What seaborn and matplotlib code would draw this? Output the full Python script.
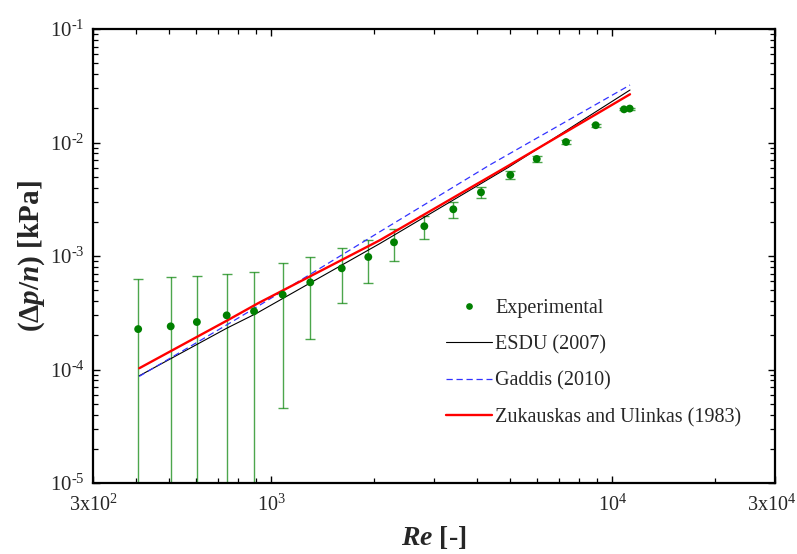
import numpy as np
import pandas as pd
import matplotlib
matplotlib.use("Agg")
import matplotlib.pyplot as plt
import matplotlib.transforms as mtransforms
import seaborn as sns
from matplotlib.ticker import LogLocator, FixedLocator, FixedFormatter, NullFormatter
from matplotlib.lines import Line2D

# ---------------- data ----------------
re_exp = [407, 507, 605, 740, 890, 1080, 1301, 1609, 1925, 2290,
          2810, 3418, 4120, 5023, 6003, 7315, 8941, 10823, 11247]
dp_exp = [2.27e-4, 2.40e-4, 2.62e-4, 3.00e-4, 3.26e-4, 4.56e-4, 5.86e-4, 7.79e-4, 9.80e-4, 1.32e-3,
          1.83e-3, 2.58e-3, 3.64e-3, 5.17e-3, 7.16e-3, 1.01e-2, 1.42e-2, 1.96e-2, 1.99e-2]
dp_err = [4.04e-4, 4.09e-4, 4.05e-4, 3.94e-4, 4.00e-4, 4.10e-4, 4.00e-4, 3.90e-4, 4.00e-4, 4.10e-4,
          4.20e-4, 4.10e-4, 4.00e-4, 4.30e-4, 4.00e-4, 4.00e-4, 4.00e-4, 4.00e-4, 4.00e-4]

re_esdu = [410, 740, 906, 2084, 4939, 11270]
dp_esdu = [8.8e-5, 2.31e-4, 3.13e-4, 1.29e-3, 6.0e-3, 2.90e-2]

re_gaddis = [410, 740, 926, 2084, 4367, 11270]
dp_gaddis = [8.7e-5, 2.47e-4, 3.70e-4, 1.64e-3, 6.33e-3, 3.21e-2]

re_zuk = [410, 740, 914, 2084, 4939, 11270]
dp_zuk = [1.026e-4, 2.69e-4, 3.83e-4, 1.38e-3, 6.2e-3, 2.66e-2]

x_ticks = [300, 1000, 10000, 30000]
x_ticklabels = [r"$3\mathrm{x}10^{2}$", r"$10^{3}$", r"$10^{4}$", r"$3\mathrm{x}10^{4}$"]
y_ticks = [1e-5, 1e-4, 1e-3, 1e-2, 1e-1]
y_ticklabels = [r"$10^{\text{-}5}$", r"$10^{\text{-}4}$", r"$10^{\text{-}3}$",
                r"$10^{\text{-}2}$", r"$10^{\text{-}1}$"]

labels = ["Experimental", "ESDU (2007)", "Gaddis (2010)", "Zukauskas and Ulinkas (1983)"]

# ---------------- style ----------------
sns.set_style("ticks")
plt.rcParams["font.family"] = ["Liberation Serif", "DejaVu Serif"]
plt.rcParams["mathtext.fontset"] = "custom"
plt.rcParams["mathtext.rm"] = "Liberation Serif"
plt.rcParams["mathtext.it"] = "Liberation Serif:italic"
plt.rcParams["mathtext.bf"] = "Liberation Serif:bold"
plt.rcParams["mathtext.bfit"] = "Liberation Serif:italic:bold"

fig = plt.figure(figsize=(7.97, 5.54), dpi=100)
ax = fig.add_axes([93 / 797, 1 - 483 / 554, (775 - 93) / 797, (483 - 29) / 554])

green = "#008000"

exp_df = pd.DataFrame({"Re": re_exp, "dp": dp_exp, "err": dp_err})
lower = np.maximum(exp_df["dp"] - exp_df["err"], 1e-8)
ax.errorbar(exp_df["Re"], exp_df["dp"],
            yerr=[exp_df["dp"] - lower, exp_df["err"]],
            fmt="none", ecolor=green, elinewidth=1.0, capsize=3.6, capthick=1.0,
            alpha=0.7, zorder=2)

esdu_df = pd.DataFrame({"Re": re_esdu, "dp": dp_esdu})
gaddis_df = pd.DataFrame({"Re": re_gaddis, "dp": dp_gaddis})
zuk_df = pd.DataFrame({"Re": re_zuk, "dp": dp_zuk})

sns.lineplot(data=esdu_df, x="Re", y="dp", ax=ax, color="black", lw=0.8,
             estimator=None, sort=True, zorder=3)
sns.lineplot(data=gaddis_df, x="Re", y="dp", ax=ax, color="#3333ff", lw=0.9,
             dashes=False, estimator=None, sort=True, zorder=3, linestyle=(0, (5, 3)))
sns.lineplot(data=zuk_df, x="Re", y="dp", ax=ax, color="red", lw=1.7,
             estimator=None, sort=True, zorder=4)
sns.scatterplot(data=exp_df, x="Re", y="dp", ax=ax, color=green, s=32,
                edgecolor="none", zorder=5)

ax.set_xscale("log")
ax.set_yscale("log")
ax.set_xlim(300, 30000)
ax.set_ylim(1e-5, 1e-1)

ax.xaxis.set_major_locator(FixedLocator(x_ticks))
ax.xaxis.set_major_formatter(FixedFormatter(x_ticklabels))
ax.xaxis.set_minor_locator(LogLocator(base=10, subs=np.arange(2, 10)))
ax.xaxis.set_minor_formatter(NullFormatter())
ax.yaxis.set_major_locator(FixedLocator(y_ticks))
ax.yaxis.set_major_formatter(FixedFormatter(y_ticklabels))
ax.yaxis.set_minor_locator(LogLocator(base=10, subs=np.arange(2, 10)))
ax.yaxis.set_minor_formatter(NullFormatter())

ax.tick_params(which="both", direction="in", top=True, right=True, color="black")
ax.tick_params(which="major", length=5, width=1.0, labelsize=15)
ax.tick_params(axis="x", which="major", pad=8, labelsize=14.5)
ax.tick_params(axis="y", which="major", pad=6)
ax.tick_params(which="minor", length=3.5, width=0.9)
for s in ax.spines.values():
    s.set_linewidth(1.6)
    s.set_color("black")

# keep the last x tick label inside the figure, as in the reference
fig.canvas.draw()
last = ax.get_xticklabels()[-1]
last.set_horizontalalignment("right")
last.set_transform(last.get_transform() +
                   mtransforms.ScaledTranslation(21 / 100, 0, fig.dpi_scale_trans))

ax.set_xlabel(r"$\mathbfit{Re}$ [-]", fontsize=20, fontweight="bold", labelpad=6)
ax.set_ylabel(r"($\mathbf{\Delta}\mathbfit{p}$/$\mathbfit{n}$) [kPa]",
              fontsize=21, fontweight="bold", labelpad=2)

handles = [
    Line2D([], [], marker="o", ls="none", color=green, markersize=3.8),
    Line2D([], [], color="black", lw=0.8),
    Line2D([], [], color="#3333ff", lw=0.9, linestyle=(0, (5, 3))),
    Line2D([], [], color="red", lw=1.7),
]
leg = ax.legend(handles, labels, loc="upper left",
                bbox_to_anchor=((446 - 93) / 682, 1 - (299 - 29) / 454),
                frameon=False, fontsize=14.5, handlelength=2.3, handletextpad=0.15,
                labelspacing=0.85, borderpad=0, borderaxespad=0, numpoints=1)

fig.savefig("out.png", dpi=100)
